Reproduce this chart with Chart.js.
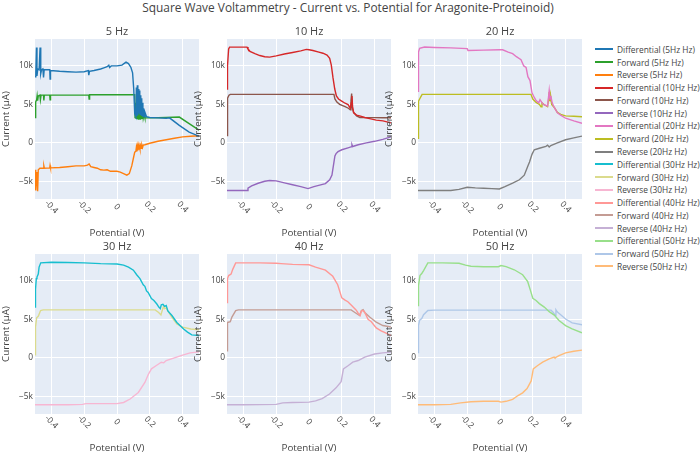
<!DOCTYPE html>
<html>
<head>
<meta charset="utf-8">
<script src="https://cdn.jsdelivr.net/npm/chart.js@4.4.1/dist/chart.umd.min.js"></script>
<style>
  body { margin: 0; background: #fff; font-family: 'Open Sans', sans-serif; color: #444; }
  #wrap { position: relative; width: 700px; height: 453px; overflow: hidden; }
  #wrap canvas { position: absolute; }
  #title { position: absolute; left: 0; width: 696px; top: 0; text-align: center; font-size: 11.9px; line-height: 14px; }
  #legend { position: absolute; left: 595px; top: 43px; font-size: 8.4px; }
  .item { height: 12.78px; display: flex; align-items: center; white-space: nowrap; }
  .swatch { width: 18px; height: 2px; margin-right: 4px; }
</style>
</head>
<body>
<div id="wrap">
  <div id="title">Square Wave Voltammetry - Current vs. Potential for Aragonite-Proteinoid)</div>
  <div id="legend"></div>
</div>
<script>
// axis ticks
const potentialTicks = [-0.4, -0.2, 0, 0.2, 0.4];
const currentTicks = [-5000, 0, 5000, 10000];

const frequencies = ['5Hz', '10Hz', '20Hz', '30Hz', '40Hz', '50Hz'];
const kinds = ['Differential', 'Forward', 'Reverse'];
const colors = [
  '#1f77b4', '#2ca02c', '#ff7f0e',
  '#d62728', '#8c564b', '#9467bd',
  '#e377c2', '#bcbd22', '#7f7f7f',
  '#17becf', '#dbdb8d', '#f7b6d2',
  '#ff9896', '#c49c94', '#c5b0d5',
  '#98df8a', '#aec7e8', '#ffbb78'
];

// [potential V, current uA]
const diff5 = [[-0.500, 8600], [-0.495, 9200], [-0.491, 12400], [-0.488, 8700], [-0.483, 9600], [-0.475, 9500], [-0.469, 12400], [-0.465, 9000], [-0.460, 9500], [-0.452, 9600], [-0.448, 8500], [-0.444, 9500], [-0.430, 9500], [-0.410, 9500], [-0.408, 8300], [-0.405, 9400], [-0.35, 9300], [-0.30, 9250], [-0.25, 9200], [-0.20, 9250], [-0.175, 9400], [-0.172, 8800], [-0.168, 9300], [-0.14, 9400], [-0.12, 9500], [-0.10, 9600], [-0.08, 9750], [-0.06, 9900], [-0.05, 10100], [-0.045, 9800], [-0.035, 10000], [0.00, 10000], [0.03, 10100], [0.055, 10500], [0.07, 10300], [0.085, 9800], [0.095, 9100], [0.102, 7000], [0.108, 3800], [0.115, 3400], [0.118, 7200], [0.121, 3500], [0.124, 7500], [0.127, 3600], [0.130, 7000], [0.133, 3800], [0.136, 6800], [0.139, 3700], [0.142, 6200], [0.145, 3600], [0.148, 5800], [0.151, 3500], [0.155, 5200], [0.158, 3400], [0.162, 4500], [0.166, 3400], [0.170, 4000], [0.18, 3400], [0.20, 3300], [0.25, 3250], [0.30, 3200], [0.32, 3250], [0.38, 2270], [0.44, 1400], [0.50, 870]];
const fwd5 = [[-0.500, 3300], [-0.498, 5000], [-0.494, 5300], [-0.490, 5600], [-0.487, 6100], [-0.484, 5500], [-0.480, 6100], [-0.470, 6200], [-0.467, 5600], [-0.463, 6200], [-0.448, 6200], [-0.446, 5500], [-0.443, 6200], [-0.41, 6200], [-0.408, 5600], [-0.405, 6200], [-0.30, 6200], [-0.20, 6200], [-0.172, 6200], [-0.170, 5700], [-0.167, 6250], [-0.10, 6250], [0.00, 6250], [0.08, 6250], [0.108, 6250], [0.110, 3300], [0.114, 5200], [0.117, 3200], [0.120, 5600], [0.123, 3200], [0.126, 5300], [0.129, 3100], [0.132, 5200], [0.135, 3200], [0.138, 4800], [0.141, 3100], [0.144, 4600], [0.147, 3200], [0.150, 4400], [0.153, 3200], [0.157, 4000], [0.160, 3200], [0.165, 3700], [0.17, 3250], [0.20, 3250], [0.30, 3300], [0.38, 3350], [0.44, 2500], [0.50, 1650]];
const rev5 = [[-0.500, -3500], [-0.497, -4800], [-0.494, -6200], [-0.491, -3800], [-0.488, -4500], [-0.484, -6300], [-0.480, -3500], [-0.47, -3300], [-0.448, -3300], [-0.446, -3000], [-0.443, -3300], [-0.41, -3250], [-0.408, -2950], [-0.405, -3250], [-0.35, -3200], [-0.30, -3100], [-0.25, -3000], [-0.20, -3000], [-0.18, -2900], [-0.17, -2750], [-0.16, -3100], [-0.14, -3200], [-0.12, -3300], [-0.10, -3500], [-0.08, -3550], [-0.06, -3500], [-0.04, -3700], [-0.02, -3700], [0.00, -3700], [0.02, -3800], [0.04, -4000], [0.06, -4200], [0.075, -4000], [0.09, -3000], [0.10, -2000], [0.108, -1200], [0.115, -1100], [0.118, -600], [0.121, -1100], [0.124, -500], [0.127, -1000], [0.130, -450], [0.133, -900], [0.136, -400], [0.140, -800], [0.144, -350], [0.148, -700], [0.152, -300], [0.156, -600], [0.16, -300], [0.17, -250], [0.20, -50], [0.25, 200], [0.30, 400], [0.35, 600], [0.40, 780], [0.45, 850], [0.50, 920]];

const diff10 = [[-0.500, 7000], [-0.497, 10000], [-0.490, 12200], [-0.484, 12450], [-0.40, 12450], [-0.378, 12450], [-0.372, 12200], [-0.36, 11900], [-0.33, 11600], [-0.30, 11350], [-0.27, 11200], [-0.24, 11150], [-0.20, 11300], [-0.15, 11550], [-0.10, 11750], [-0.05, 11950], [-0.016, 12150], [0.00, 12100], [0.024, 12000], [0.06, 11800], [0.085, 11650], [0.11, 11400], [0.126, 11000], [0.136, 10100], [0.146, 8500], [0.157, 7000], [0.167, 6100], [0.18, 5700], [0.197, 5450], [0.22, 5150], [0.238, 4980], [0.252, 4500], [0.257, 5200], [0.262, 6100], [0.266, 4600], [0.272, 3900], [0.29, 3600], [0.309, 3500], [0.34, 3300], [0.37, 3150], [0.41, 2950], [0.451, 2850], [0.50, 2600]];
const fwd10 = [[-0.500, 950], [-0.499, 2500], [-0.497, 4000], [-0.494, 5800], [-0.488, 6200], [-0.48, 6300], [0.00, 6300], [0.152, 6300], [0.158, 5700], [0.17, 5300], [0.187, 5000], [0.22, 4700], [0.24, 4500], [0.252, 4300], [0.256, 5500], [0.260, 6400], [0.264, 4600], [0.272, 4000], [0.29, 3500], [0.31, 3300], [0.35, 3280], [0.40, 3280], [0.45, 3270], [0.50, 3270]];
const rev10 = [[-0.500, -6200], [-0.40, -6200], [-0.378, -6200], [-0.372, -5900], [-0.35, -5600], [-0.31, -5250], [-0.27, -5000], [-0.24, -4900], [-0.20, -4950], [-0.15, -5200], [-0.10, -5450], [-0.05, -5700], [-0.006, -5950], [0.03, -5700], [0.065, -5500], [0.10, -5300], [0.126, -4800], [0.14, -4200], [0.150, -2800], [0.158, -1700], [0.165, -1400], [0.177, -1150], [0.20, -900], [0.238, -650], [0.26, -500], [0.262, -250], [0.266, -480], [0.30, -250], [0.35, 0], [0.40, 200], [0.45, 450], [0.50, 780]];

const diff20 = [[-0.500, 6700], [-0.497, 11800], [-0.49, 12300], [-0.46, 12450], [-0.40, 12400], [-0.30, 12350], [-0.20, 12250], [-0.195, 12000], [-0.10, 12050], [0.00, 12100], [0.016, 12100], [0.05, 11800], [0.077, 11600], [0.10, 11200], [0.128, 10800], [0.145, 10000], [0.159, 9800], [0.17, 8600], [0.183, 8100], [0.195, 6500], [0.209, 5900], [0.22, 5500], [0.236, 5200], [0.244, 5600], [0.254, 5300], [0.264, 5000], [0.29, 4800], [0.295, 5800], [0.300, 6800], [0.305, 5700], [0.31, 6100], [0.318, 5200], [0.331, 4600], [0.35, 3900], [0.37, 3600], [0.40, 3200], [0.45, 2850], [0.50, 2550]];
const fwd20 = [[-0.500, 600], [-0.498, 2200], [-0.496, 5400], [-0.49, 5700], [-0.475, 6300], [-0.40, 6300], [0.00, 6300], [0.189, 6300], [0.20, 5700], [0.22, 5250], [0.24, 5000], [0.25, 4700], [0.256, 5200], [0.27, 4950], [0.29, 4700], [0.296, 5600], [0.300, 6600], [0.304, 5400], [0.308, 6200], [0.315, 5000], [0.331, 4600], [0.35, 3950], [0.37, 3700], [0.40, 3500], [0.45, 3450], [0.50, 3400]];
const rev20 = [[-0.500, -6200], [-0.40, -6200], [-0.30, -6200], [-0.25, -6050], [-0.20, -5770], [-0.15, -5850], [-0.10, -5900], [-0.05, -5950], [-0.004, -6000], [0.03, -5700], [0.077, -5250], [0.118, -4800], [0.148, -4200], [0.17, -3000], [0.18, -2500], [0.195, -1500], [0.209, -900], [0.24, -700], [0.28, -450], [0.29, -300], [0.30, -550], [0.31, -350], [0.35, 0], [0.40, 400], [0.45, 650], [0.50, 870]];

const diff30 = [[-0.500, 6600], [-0.497, 8900], [-0.492, 10300], [-0.488, 10500], [-0.48, 10900], [-0.475, 11800], [-0.465, 12350], [-0.40, 12430], [-0.30, 12400], [-0.20, 12350], [-0.10, 12250], [0.00, 12200], [0.04, 12050], [0.07, 11800], [0.10, 11400], [0.12, 10800], [0.14, 10300], [0.16, 9500], [0.17, 9300], [0.18, 8700], [0.19, 8500], [0.21, 7700], [0.225, 7450], [0.243, 7000], [0.255, 6600], [0.264, 6400], [0.27, 6900], [0.28, 6950], [0.29, 6700], [0.30, 6800], [0.31, 6100], [0.335, 5500], [0.365, 4600], [0.406, 3750], [0.43, 3350], [0.456, 2990], [0.50, 2900]];
const fwd30 = [[-0.500, 400], [-0.498, 2000], [-0.496, 4000], [-0.490, 5200], [-0.48, 5400], [-0.466, 6150], [-0.45, 6230], [0.00, 6230], [0.233, 6230], [0.254, 5900], [0.268, 5580], [0.275, 6100], [0.284, 6700], [0.29, 6400], [0.30, 6500], [0.31, 6100], [0.335, 5280], [0.365, 4420], [0.40, 4000], [0.45, 3750], [0.50, 3650]];
const rev30 = [[-0.500, -6100], [-0.40, -6100], [-0.30, -6100], [-0.21, -6050], [-0.19, -5950], [-0.10, -5950], [0.00, -5950], [0.04, -5800], [0.08, -5350], [0.13, -4500], [0.17, -3200], [0.19, -2200], [0.21, -1430], [0.24, -1000], [0.27, -570], [0.285, -650], [0.30, -350], [0.35, 0], [0.40, 350], [0.446, 650], [0.50, 780]];

const diff40 = [[-0.500, 7200], [-0.497, 10300], [-0.49, 10700], [-0.475, 10900], [-0.465, 11500], [-0.447, 12340], [-0.40, 12350], [-0.30, 12350], [-0.20, 12300], [-0.17, 12250], [-0.10, 12150], [0.00, 12100], [0.04, 11800], [0.10, 11400], [0.145, 10600], [0.175, 9500], [0.20, 7800], [0.22, 7500], [0.237, 7300], [0.26, 6800], [0.288, 6200], [0.30, 5800], [0.312, 5500], [0.32, 6100], [0.33, 6150], [0.34, 5900], [0.36, 5000], [0.38, 4700], [0.41, 3900], [0.44, 3500], [0.47, 3200], [0.50, 2900]];
const fwd40 = [[-0.500, 900], [-0.498, 3500], [-0.496, 4600], [-0.48, 4700], [-0.47, 5300], [-0.447, 6150], [-0.43, 6230], [0.00, 6230], [0.257, 6230], [0.28, 5900], [0.308, 5500], [0.32, 6150], [0.33, 6250], [0.34, 5900], [0.37, 5300], [0.41, 4630], [0.45, 4200], [0.50, 4000]];
const rev40 = [[-0.500, -6100], [-0.40, -6100], [-0.20, -6050], [-0.16, -5850], [-0.10, -5800], [0.00, -5760], [0.04, -5600], [0.08, -5300], [0.125, -4700], [0.165, -3900], [0.196, -3100], [0.21, -1430], [0.24, -1000], [0.267, -560], [0.30, -350], [0.34, 100], [0.40, 500], [0.45, 650], [0.50, 750]];

const diff50 = [[-0.500, 6800], [-0.497, 9400], [-0.488, 10700], [-0.476, 11000], [-0.466, 11350], [-0.44, 12340], [-0.35, 12340], [-0.25, 12300], [-0.21, 12050], [-0.177, 11900], [-0.10, 11850], [-0.01, 11850], [0.006, 12000], [0.037, 11850], [0.087, 11450], [0.138, 10800], [0.169, 9900], [0.185, 8800], [0.20, 7750], [0.22, 7450], [0.24, 7050], [0.27, 6600], [0.30, 6000], [0.331, 5550], [0.36, 4850], [0.40, 4200], [0.44, 3770], [0.50, 3250]];
const fwd50 = [[-0.500, 700], [-0.498, 3000], [-0.496, 4200], [-0.49, 4900], [-0.477, 5100], [-0.466, 5600], [-0.44, 6150], [-0.40, 6200], [0.00, 6200], [0.311, 6200], [0.325, 5900], [0.337, 5500], [0.341, 6250], [0.35, 5950], [0.37, 5600], [0.40, 5050], [0.44, 4550], [0.50, 4300]];
const rev50 = [[-0.500, -6100], [-0.40, -6100], [-0.30, -6050], [-0.24, -5850], [-0.177, -5700], [-0.10, -5650], [-0.01, -5650], [0.006, -5760], [0.037, -5650], [0.077, -5400], [0.11, -4900], [0.138, -4550], [0.165, -4000], [0.19, -3000], [0.203, -1430], [0.23, -1000], [0.26, -560], [0.30, -130], [0.33, 100], [0.335, 0], [0.36, 300], [0.40, 650], [0.45, 850], [0.50, 1000]];

const panelSeries = [
  [diff5, fwd5, rev5], [diff10, fwd10, rev10], [diff20, fwd20, rev20],
  [diff30, fwd30, rev30], [diff40, fwd40, rev40], [diff50, fwd50, rev50]
];

const wrap = document.getElementById('wrap');
const plotLefts = [35, 227, 418];
const plotTops = [39, 254];
const plotW = 164, plotH = 160;
const axisW = 35, topPad = 22, axisH = 40;
const fontFam = "'Open Sans', sans-serif";

const fmtCurrent = v => v === 0 ? '0' : (v < 0 ? '\u2212' : '') + Math.abs(v / 1000) + 'k';

const panelDecor = {
  id: 'panelDecor',
  beforeDraw(chart) {
    const a = chart.chartArea, ctx = chart.ctx;
    ctx.save();
    ctx.fillStyle = '#e5ecf6';
    ctx.fillRect(a.left, a.top, a.right - a.left, a.bottom - a.top);
    ctx.restore();
  },
  afterDraw(chart, args, opts) {
    const a = chart.chartArea, ctx = chart.ctx, xs = chart.scales.x;
    ctx.save();
    ctx.fillStyle = '#444';
    ctx.textAlign = 'center';
    ctx.textBaseline = 'middle';
    ctx.font = '8.4px ' + fontFam;
    potentialTicks.forEach(v => {
      ctx.save();
      ctx.translate(xs.getPixelForValue(v), a.bottom + 8);
      ctx.rotate(Math.PI / 4);
      ctx.fillText(String(v), 0, 0);
      ctx.restore();
    });
    ctx.font = '9.8px ' + fontFam;
    ctx.fillText('Potential (V)', (a.left + a.right) / 2, a.bottom + 34);
    ctx.font = '11px ' + fontFam;
    ctx.fillText(opts.title, (a.left + a.right) / 2, a.top - 7);
    ctx.translate(a.left - 29, (a.top + a.bottom) / 2);
    ctx.rotate(-Math.PI / 2);
    ctx.font = '9.8px ' + fontFam;
    ctx.fillText('Current (\u03bcA)', 0, 0);
    ctx.restore();
  }
};

panelSeries.forEach((series, p) => {
  const col = p % 3, row = Math.floor(p / 3);
  const canvas = document.createElement('canvas');
  canvas.width = axisW + plotW;
  canvas.height = topPad + plotH + axisH;
  canvas.style.left = (plotLefts[col] - axisW) + 'px';
  canvas.style.top = (plotTops[row] - topPad) + 'px';
  wrap.appendChild(canvas);

  new Chart(canvas.getContext('2d'), {
    type: 'scatter',
    data: {
      datasets: series.map((pts, k) => ({
        label: kinds[k] + ' (' + frequencies[p] + ' Hz)',
        data: pts,
        showLine: true,
        borderColor: colors[p * 3 + k],
        backgroundColor: colors[p * 3 + k],
        borderWidth: 1.4,
        pointRadius: 0,
        tension: 0
      }))
    },
    options: {
      responsive: false,
      animation: false,
      devicePixelRatio: 1,
      layout: { padding: { top: topPad, right: 0, left: 0, bottom: 0 } },
      plugins: {
        legend: { display: false },
        tooltip: { enabled: false },
        panelDecor: { title: frequencies[p].replace('Hz', ' Hz') }
      },
      scales: {
        x: {
          type: 'linear', min: -0.5, max: 0.5,
          afterBuildTicks: s => { s.ticks = potentialTicks.map(v => ({ value: v })); },
          afterFit: s => { s.height = axisH; },
          grid: { color: '#ffffff', lineWidth: 1, drawTicks: false },
          border: { display: false },
          ticks: { display: false }
        },
        y: {
          min: -7300, max: 13500,
          afterBuildTicks: s => { s.ticks = currentTicks.map(v => ({ value: v })); },
          afterFit: s => { s.width = axisW; },
          grid: { color: '#ffffff', lineWidth: 1, drawTicks: false },
          border: { display: false },
          ticks: { padding: 2, color: '#444', font: { family: fontFam, size: 8.4 }, callback: fmtCurrent }
        }
      }
    },
    plugins: [panelDecor]
  });
});

// legend
const legend = document.getElementById('legend');
frequencies.forEach((f, p) => {
  kinds.forEach((k, i) => {
    const item = document.createElement('div');
    item.className = 'item';
    item.innerHTML = '<span class="swatch" style="background:' + colors[p * 3 + i] + '"></span>' + k + ' (' + f + ' Hz)';
    legend.appendChild(item);
  });
});
</script>
</body>
</html>
